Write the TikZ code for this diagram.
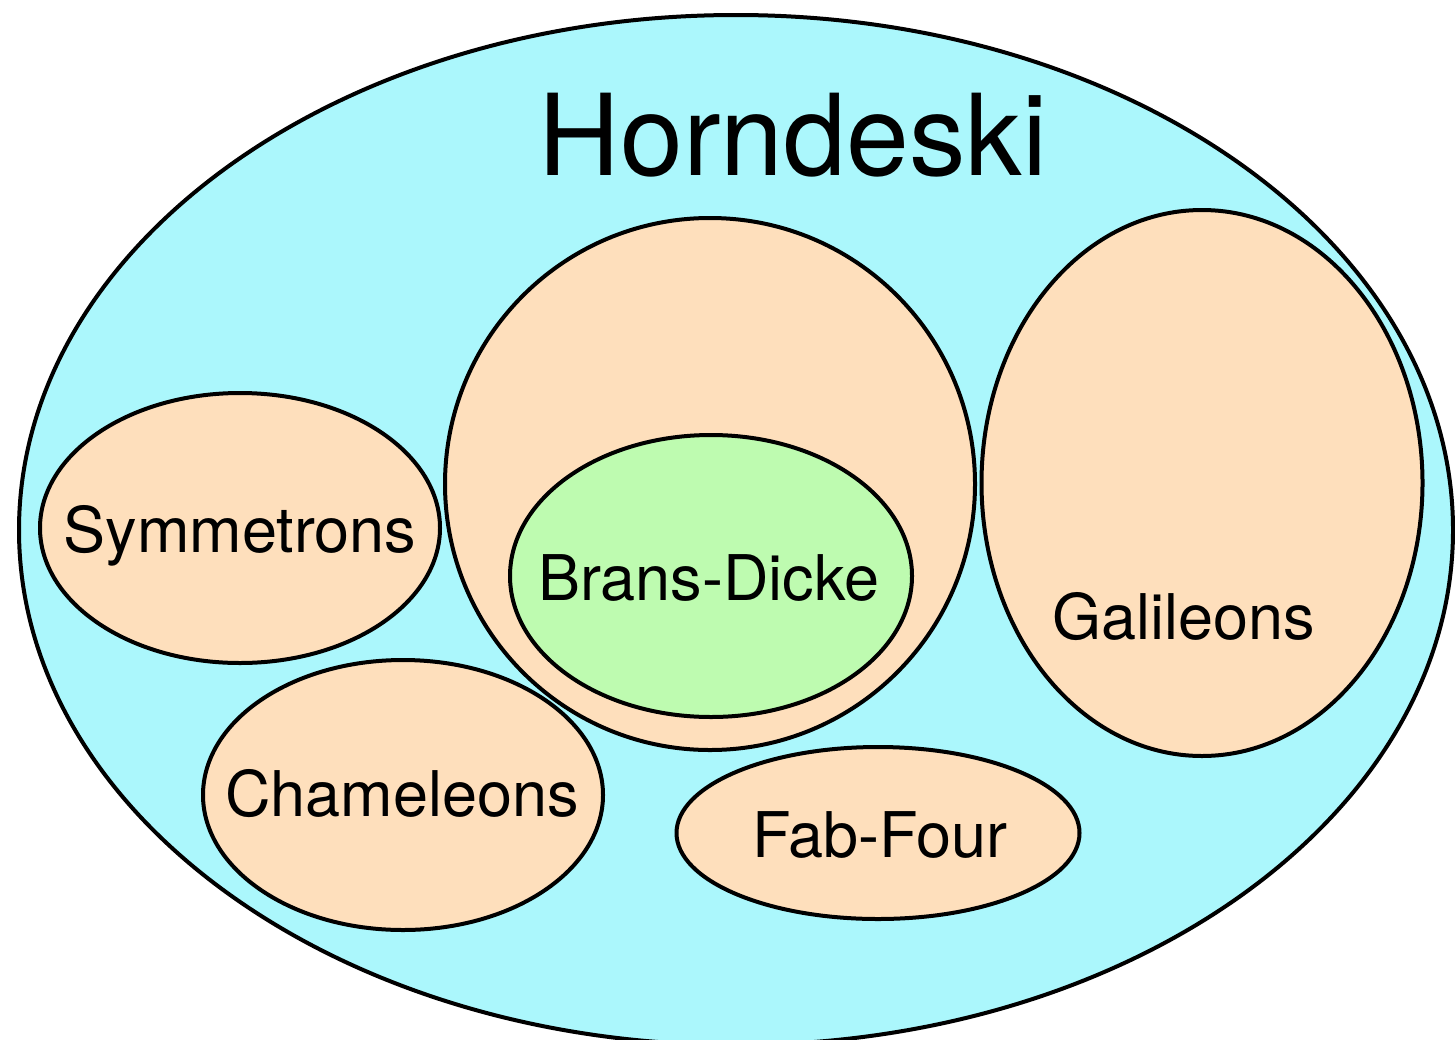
\documentclass[tikz,border=0pt]{standalone}
\usepackage{fontspec}
\setmainfont{TeX Gyre Heros}
\usetikzlibrary{shapes.geometric}
\definecolor{hcyan}{HTML}{ABF7FC}
\definecolor{hpeach}{HTML}{FEDFBC}
\definecolor{hgreen}{HTML}{BEFBB0}
\tikzset{
  blob/.style={ellipse, draw=black, line width=4pt, inner sep=0pt},
  lbl/.style={anchor=base, inner sep=0pt, font=\fontsize{63}{70}\selectfont},
}
\begin{document}
\begin{tikzpicture}[x=1pt, y=-1pt]
\useasboundingbox (0,0) rectangle (1455,1039);
\node[blob, fill=hcyan, minimum width=1434pt, minimum height=1030pt] (horn) at (736,530) {};
\node[blob, fill=hpeach, minimum width=530pt, minimum height=532pt] (bdout) at (710,484) {};
\node[blob, fill=hgreen, minimum width=402pt, minimum height=282pt] (bd) at (711,576) {};
\node[blob, fill=hpeach, minimum width=441pt, minimum height=546pt] (gal) at (1202,483) {};
\node[blob, fill=hpeach, minimum width=400pt, minimum height=270pt] (sym) at (240,528) {};
\node[blob, fill=hpeach, minimum width=400pt, minimum height=270pt] (cham) at (403,795) {};
\node[blob, fill=hpeach, minimum width=403pt, minimum height=172pt] (fab) at (878,833) {};
\node[anchor=base, inner sep=0pt, font=\fontsize{113}{120}\selectfont] (hornt) at (793,175) {Horndeski};
\node[lbl] (symt) at (240,552) {Symmetrons};
\node[lbl] (bdt) at (709,600) {Brans-Dicke};
\node[lbl] (galt) at (1184,639) {Galileons};
\node[lbl] (chamt) at (402,816) {Chameleons};
\node[lbl] (fabt) at (880,857) {Fab-Four};
\end{tikzpicture}
\end{document}
